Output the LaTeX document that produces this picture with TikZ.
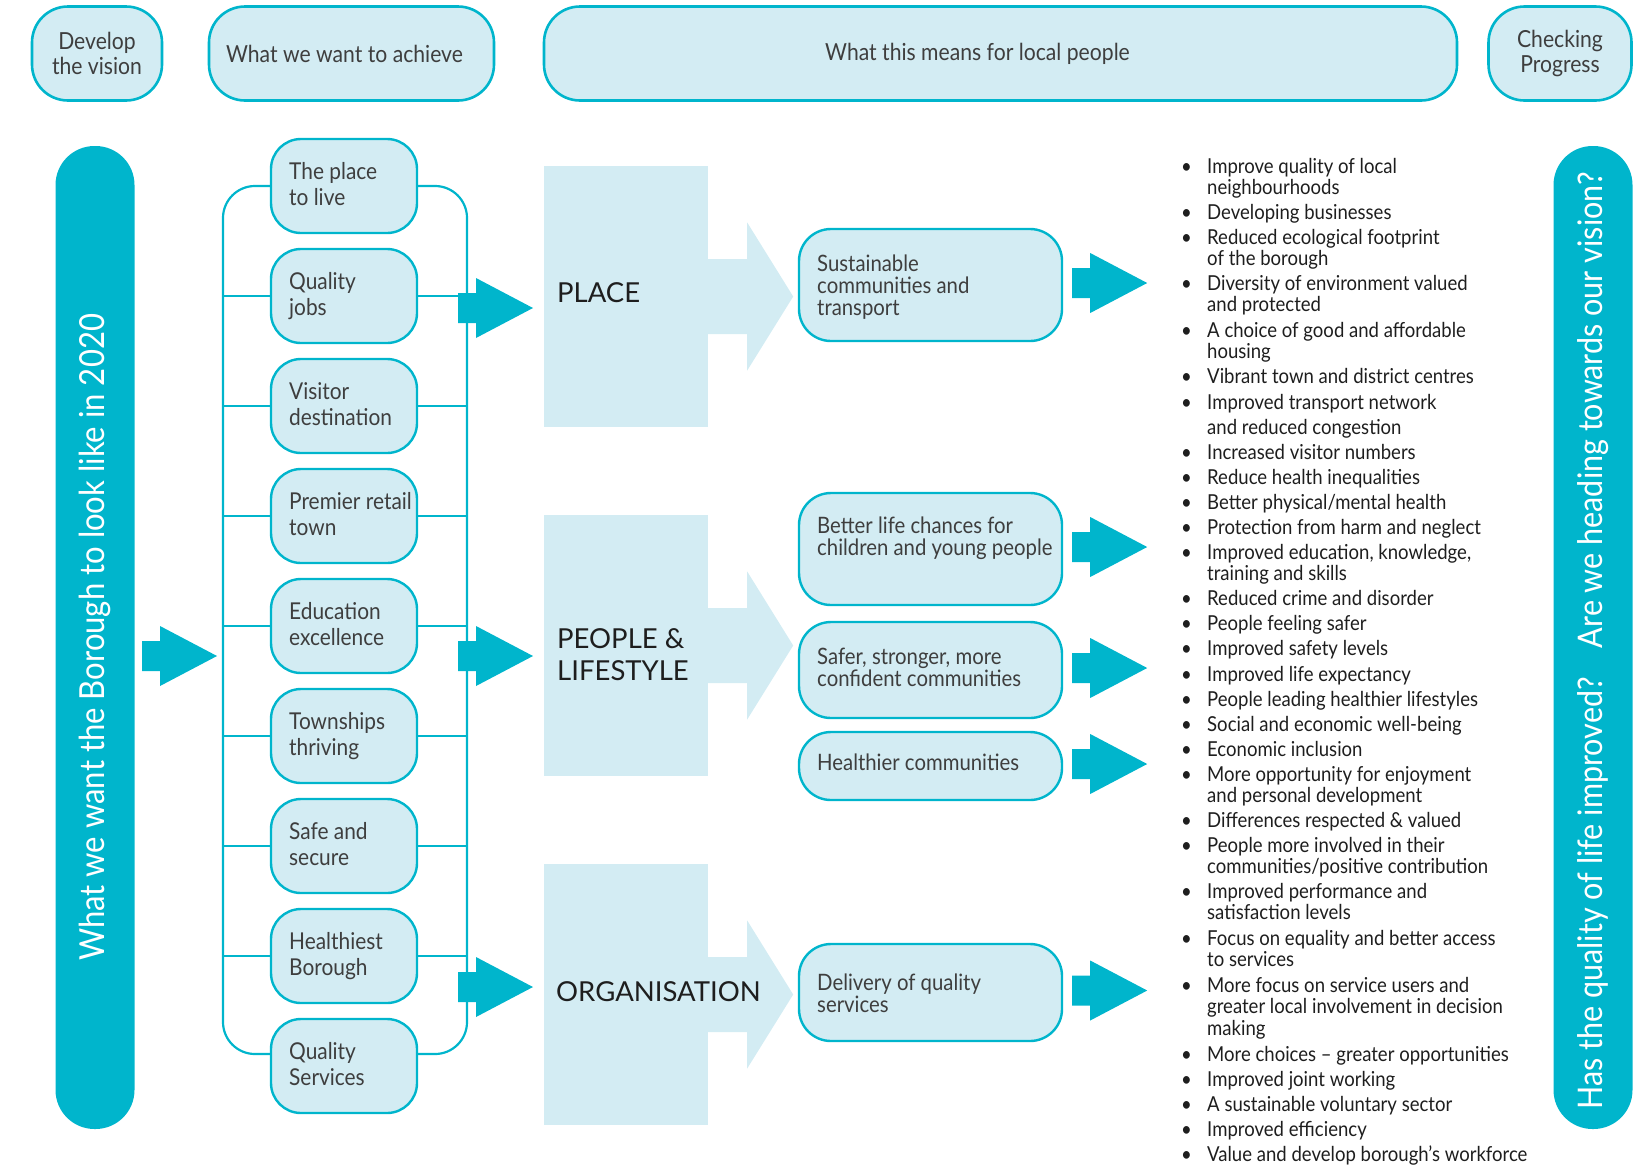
\documentclass[tikz,border=0pt]{standalone}
\usepackage{fontspec}
\setmainfont{Lato}[FakeStretch=0.9]
\newfontfamily\blockfont{Lato}
\usetikzlibrary{calc}
\definecolor{cyanD}{RGB}{0,181,204}
\definecolor{lightF}{RGB}{211,236,243}
\definecolor{txtG}{RGB}{62,62,62}
\definecolor{txtK}{RGB}{30,30,30}
\newcommand\mlines[1]{\begin{tabular}[t]{@{}l@{}}#1\end{tabular}}
\newcommand\bitem[1]{\makebox[26pt][l]{\textbullet}\mlines{#1}}
\begin{document}
\begin{tikzpicture}[x=1pt,y=-1pt,
  hdr/.style={draw=cyanD, line width=2.6pt, fill=lightF, rounded corners=36pt,
    minimum height=94pt, inner sep=0pt, font=\fontsize{23.5}{25}\selectfont,
    text=txtG, align=center},
  gbox/.style={draw=cyanD, line width=2.4pt, fill=lightF, rounded corners=30pt,
    minimum width=146pt, minimum height=94pt, inner sep=0pt},
  gtext/.style={font=\fontsize{23.2}{26}\selectfont, text=txtG, anchor=base west, inner sep=0pt},
  rbox/.style={draw=cyanD, line width=2.4pt, fill=lightF, rounded corners=32pt,
    minimum width=263pt, inner sep=0pt},
  rtext/.style={font=\fontsize{22.6}{21}\selectfont, text=txtG, anchor=base west, inner sep=0pt},
  block/.style={fill=lightF, minimum width=164pt, minimum height=261pt, inner sep=0pt},
  btext/.style={font=\blockfont\fontsize{27.5}{32}\selectfont, text=txtK, anchor=base west, inner sep=0pt},
  bar/.style={fill=cyanD, rounded corners=39pt, minimum height=79pt, minimum width=983pt,
    inner sep=0pt, rotate=90, text=white},
  bul/.style={font=\fontsize{20.6}{21.7}\selectfont, text=txtK, anchor=base west, inner sep=0pt},
  brk/.style={draw=cyanD, line width=2.2pt, rounded corners=32pt},
  darr/.pic={\fill[cyanD] (0,-15) -- (18,-15) -- (18,-30) -- (75,0) -- (18,30) -- (18,15) -- (0,15) -- cycle;},
  larr/.pic={\fill[lightF] (-1,-37.5) -- (39,-37.5) -- (39,-74) -- (85,0) -- (39,74) -- (39,37.5) -- (-1,37.5) -- cycle;}
]
\useasboundingbox (0,0) rectangle (1640,1168);

% headers
\node[hdr, minimum width=130pt] (h1) at (97,53.5) {Develop\\the vision};
\node[hdr, minimum width=285pt] (h2) at (351.5,53.5) {What we want to achieve\hspace*{14pt}};
\node[hdr, minimum width=913pt] (h3) at (1000.5,53.5) {What this means for local people\hspace*{46pt}};
\node[hdr, minimum width=143pt] (h4) at (1560,53.5) {Checking\\Progress};

% side bars
\node[bar, font=\fontsize{34.5}{34.5}\selectfont] (lbar) at (95,637.5) {What we want the Borough to look like in 2020};
\node[bar] (rbar) at (1593,637.5) {};
\node[rotate=90, text=white, inner sep=0pt, font=\fontsize{33.9}{33.9}\selectfont] (rbarT) at (1593,641) {Has the quality of life improved?\hspace{0.55em} Are we heading towards our vision?};

% left arrow
\pic at (142,656) {darr};

% goal boxes
\coordinate (Lx) at (223,0);
\coordinate (Rx) at (467,0);
\foreach \i/\t in {1/{The place\\to live}, 2/{Quality\\jobs}, 3/{Visitor\\destination},
  4/{Premier retail\\town}, 5/{Education\\excellence}, 6/{Townships\\thriving},
  7/{Safe and\\secure}, 8/{Healthiest\\Borough}, 9/{Quality\\Services}} {
  \node[gbox] (g\i) at (344,{186+110*(\i-1)}) {};
  \node[gtext] (gt\i) at ($(g\i.center)+(-55,-7)$) {\mlines{\t}};
}
\draw[brk] (g1.west) -- (g1.west -| Lx) -- (223,1054) -- (g9.west |- 0,1054);
\draw[brk] (g1.east) -- (g1.east -| Rx) -- (467,1054) -- (g9.east |- 0,1054);
\foreach \i in {2,...,8} {
  \draw[brk] (g\i.west) -- (g\i.west -| Lx);
  \draw[brk] (g\i.east) -- (g\i.east -| Rx);
}

% middle dark arrows
\pic at (458,308) {darr};
\pic at (458,656) {darr};
\pic at (458,987) {darr};

% blocks
\node[block] (place) at (626,296.5) {};
\node[block] (people) at (626,645.5) {};
\node[block] (org) at (626,994.5) {};
\pic at (place.east) {larr};
\pic at (people.east) {larr};
\pic at (org.east) {larr};
\node[btext] (placeT) at (557,302) {PLACE};
\node[btext] (peopleT) at (557,648) {\mlines{PEOPLE \&\\LIFESTYLE}};
\node[btext] (orgT) at (556,1001) {ORGANISATION};

% outcome boxes
\node[rbox, minimum height=112pt] (r1) at (930.5,285) {};
\node[rbox, minimum height=112pt] (r2) at (930.5,549) {};
\node[rbox, minimum height=96pt] (r3) at (930.5,670) {};
\node[rbox, minimum height=68pt] (r4) at (930.5,766) {};
\node[rbox, minimum height=97pt] (r5) at (930.5,992.5) {};
\node[rtext] (rt1) at (817,271) {\mlines{Sustainable\\communities and\\transport}};
\node[rtext] (rt2) at (817,533) {\mlines{Better life chances for\\children and young people}};
\node[rtext] (rt3) at (817,664) {\mlines{Safer, stronger, more\\confident communities}};
\node[rtext] (rt4) at (817,770) {Healthier communities};
\node[rtext] (rt5) at (817,990) {\mlines{Delivery of quality\\services}};
\foreach \r in {r1,r2,r3,r4,r5} { \pic at ($(\r.east)+(9,-2)$) {darr}; }

% bullet list
\node[bul] (l1) at (1181,173) {\bitem{Improve quality of local\\neighbourhoods}};
\node[bul] (l2) at (1181,219) {\bitem{Developing businesses}};
\node[bul] (l3) at (1181,244) {\bitem{Reduced ecological footprint\\of the borough}};
\node[bul] (l4) at (1181,290) {\bitem{Diversity of environment valued\\and protected}};
\node[bul] (l5) at (1181,337) {\bitem{A choice of good and affordable\\housing}};
\node[bul] (l6) at (1181,383) {\bitem{Vibrant town and district centres}};
\node[bul] (l7) at (1181,409) {\bitem{Improved transport network\\[3.5pt]and reduced congestion}};
\node[bul] (l8) at (1181,459) {\bitem{Increased visitor numbers}};
\node[bul] (l9) at (1181,484) {\bitem{Reduce health inequalities}};
\node[bul] (l10) at (1181,509) {\bitem{Better physical/mental health}};
\node[bul] (l11) at (1181,534) {\bitem{Protection from harm and neglect}};
\node[bul] (l12) at (1181,559) {\bitem{Improved education, knowledge,\\training and skills}};
\node[bul] (l13) at (1181,605) {\bitem{Reduced crime and disorder}};
\node[bul] (l14) at (1181,630) {\bitem{People feeling safer}};
\node[bul] (l15) at (1181,655) {\bitem{Improved safety levels}};
\node[bul] (l16) at (1181,681) {\bitem{Improved life expectancy}};
\node[bul] (l17) at (1181,706) {\bitem{People leading healthier lifestyles}};
\node[bul] (l18) at (1181,731) {\bitem{Social and economic well-being}};
\node[bul] (l19) at (1181,756) {\bitem{Economic inclusion}};
\node[bul] (l20) at (1181,781) {\bitem{More opportunity for enjoyment\\and personal development}};
\node[bul] (l21) at (1181,827) {\bitem{Differences respected \& valued}};
\node[bul] (l22) at (1181,852) {\bitem{People more involved in their\\communities/positive contribution}};
\node[bul] (l23) at (1181,898) {\bitem{Improved performance and\\satisfaction levels}};
\node[bul] (l24) at (1181,945) {\bitem{Focus on equality and better access\\to services}};
\node[bul] (l25) at (1181,992) {\bitem{More focus on service users and\\greater local involvement in decision\\making}};
\node[bul] (l26) at (1181,1061) {\bitem{More choices – greater opportunities}};
\node[bul] (l27) at (1181,1086) {\bitem{Improved joint working}};
\node[bul] (l28) at (1181,1111) {\bitem{A sustainable voluntary sector}};
\node[bul] (l29) at (1181,1136) {\bitem{Improved efficiency}};
\node[bul] (l30) at (1181,1161) {\bitem{Value and develop borough’s workforce}};
\end{tikzpicture}
\end{document}
